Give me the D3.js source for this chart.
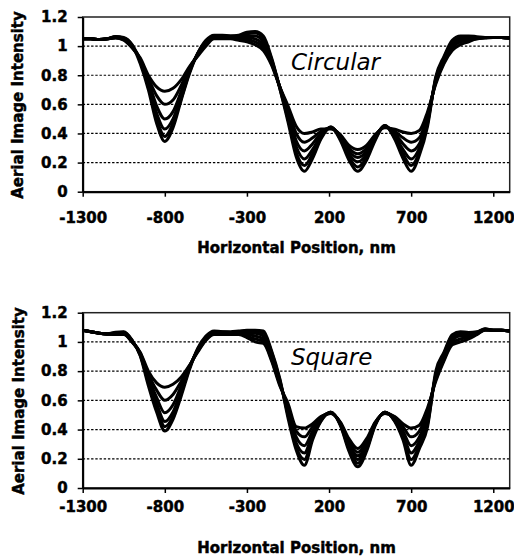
<!DOCTYPE html>
<html>
<head>
<meta charset="utf-8">
<script src="https://cdn.jsdelivr.net/npm/d3@7"></script>
<style>
  body { margin: 0; background: #fff; }
  svg { display: block; }
</style>
</head>
<body>
<script>
// ---- DATA ----
const positions = [-1300,-1250,-1200,-1150,-1100,-1050,-1000,-950,-900,-850,-800,-750,-700,-650,-600,-550,-500,-450,-400,-350,-300,-250,-200,-150,-100,-50,0,50,100,150,210,270,320,375,430,480,540,600,650,700,750,800,850,900,950,1000,1050,1100,1150,1200,1250,1300];

const xTicks = [-1300, -800, -300, 200, 700, 1200];
const yTicks = [0, 0.2, 0.4, 0.6, 0.8, 1, 1.2];
const yTickLabels = ["0", "0.2", "0.4", "0.6", "0.8", "1", "1.2"];
const gridValues = [0.2, 0.4, 0.6, 0.8, 1.0];

// Circular contact holes
const circular1 = [1.05,1.05,1.045,1.05,1.055,1.04,0.99,0.92,0.80,0.72,0.69,0.71,0.77,0.86,0.93,1.00,1.05,1.05,1.05,1.04,1.03,1.01,0.97,0.87,0.72,0.59,0.45,0.40,0.41,0.43,0.43,0.39,0.32,0.29,0.32,0.39,0.44,0.43,0.41,0.40,0.42,0.55,0.74,0.88,0.97,1.01,1.03,1.05,1.055,1.06,1.06,1.055];
const circular2 = [1.05,1.05,1.045,1.05,1.058,1.045,0.99,0.91,0.78,0.66,0.60,0.63,0.73,0.85,0.94,1.01,1.055,1.055,1.055,1.05,1.045,1.03,0.99,0.88,0.72,0.57,0.40,0.34,0.37,0.415,0.435,0.385,0.30,0.26,0.30,0.385,0.445,0.415,0.37,0.34,0.37,0.53,0.75,0.89,0.99,1.03,1.04,1.05,1.058,1.06,1.06,1.055];
const circular3 = [1.05,1.05,1.045,1.05,1.06,1.05,1.00,0.91,0.76,0.59,0.50,0.55,0.69,0.84,0.94,1.02,1.06,1.06,1.06,1.055,1.06,1.05,1.01,0.89,0.72,0.55,0.35,0.28,0.33,0.40,0.44,0.38,0.28,0.235,0.28,0.38,0.45,0.40,0.33,0.28,0.33,0.51,0.76,0.90,1.00,1.04,1.05,1.055,1.06,1.06,1.06,1.055];
const circular4 = [1.05,1.05,1.045,1.05,1.062,1.052,1.00,0.90,0.74,0.54,0.43,0.50,0.66,0.83,0.95,1.03,1.065,1.065,1.065,1.06,1.07,1.07,1.03,0.90,0.72,0.52,0.31,0.225,0.29,0.385,0.44,0.37,0.26,0.205,0.26,0.37,0.45,0.385,0.29,0.225,0.30,0.49,0.77,0.91,1.02,1.05,1.06,1.06,1.06,1.06,1.06,1.055];
const circular5 = [1.05,1.05,1.045,1.05,1.064,1.055,1.01,0.90,0.72,0.50,0.38,0.47,0.64,0.82,0.95,1.03,1.07,1.07,1.07,1.07,1.085,1.09,1.05,0.91,0.71,0.50,0.27,0.18,0.26,0.37,0.445,0.36,0.24,0.17,0.24,0.36,0.455,0.37,0.26,0.18,0.27,0.47,0.78,0.92,1.03,1.06,1.065,1.06,1.06,1.06,1.06,1.055];
const circular6 = [1.05,1.05,1.045,1.05,1.066,1.06,1.01,0.88,0.70,0.47,0.345,0.44,0.63,0.81,0.95,1.04,1.075,1.075,1.07,1.075,1.095,1.10,1.07,0.92,0.71,0.48,0.24,0.14,0.23,0.36,0.445,0.35,0.22,0.14,0.22,0.35,0.455,0.36,0.23,0.14,0.25,0.45,0.79,0.93,1.04,1.07,1.07,1.065,1.06,1.06,1.06,1.055];

// Square contact holes
const square1 = [1.08,1.07,1.06,1.055,1.05,1.05,1.00,0.93,0.80,0.72,0.69,0.71,0.76,0.84,0.93,1.01,1.05,1.05,1.05,1.05,1.03,1.00,0.99,0.87,0.70,0.58,0.42,0.41,0.44,0.49,0.51,0.45,0.34,0.27,0.34,0.45,0.51,0.49,0.44,0.41,0.43,0.55,0.73,0.87,0.98,1.00,1.02,1.05,1.08,1.08,1.08,1.075];
const square2 = [1.08,1.07,1.06,1.055,1.053,1.054,1.00,0.925,0.78,0.67,0.60,0.64,0.73,0.835,0.935,1.015,1.055,1.055,1.055,1.055,1.04,1.02,1.005,0.88,0.71,0.56,0.39,0.35,0.42,0.485,0.512,0.445,0.32,0.245,0.32,0.445,0.512,0.485,0.42,0.35,0.39,0.53,0.745,0.88,0.995,1.02,1.03,1.054,1.082,1.08,1.08,1.075];
const square3 = [1.08,1.07,1.06,1.055,1.056,1.058,1.005,0.92,0.76,0.62,0.515,0.57,0.70,0.83,0.94,1.02,1.06,1.06,1.06,1.06,1.05,1.04,1.02,0.89,0.72,0.54,0.35,0.29,0.39,0.475,0.514,0.44,0.30,0.22,0.30,0.44,0.514,0.475,0.39,0.29,0.35,0.50,0.76,0.89,1.01,1.04,1.04,1.058,1.084,1.08,1.08,1.075];
const square4 = [1.08,1.07,1.06,1.055,1.06,1.062,1.01,0.915,0.74,0.58,0.455,0.52,0.67,0.825,0.945,1.025,1.065,1.065,1.06,1.065,1.06,1.06,1.04,0.91,0.73,0.52,0.31,0.24,0.37,0.465,0.516,0.435,0.285,0.195,0.285,0.435,0.516,0.465,0.37,0.24,0.32,0.47,0.77,0.90,1.02,1.05,1.05,1.062,1.086,1.08,1.08,1.075];
const square5 = [1.08,1.07,1.06,1.055,1.063,1.066,1.01,0.91,0.72,0.55,0.42,0.49,0.65,0.82,0.95,1.03,1.07,1.07,1.065,1.07,1.07,1.07,1.06,0.93,0.74,0.50,0.28,0.195,0.35,0.46,0.518,0.43,0.27,0.17,0.27,0.43,0.518,0.46,0.35,0.195,0.29,0.44,0.78,0.92,1.04,1.06,1.06,1.066,1.088,1.08,1.08,1.075];
const square6 = [1.08,1.07,1.06,1.055,1.066,1.07,1.015,0.905,0.70,0.52,0.39,0.47,0.63,0.81,0.955,1.04,1.075,1.07,1.07,1.075,1.08,1.08,1.075,0.94,0.75,0.48,0.26,0.155,0.33,0.455,0.52,0.425,0.255,0.145,0.255,0.425,0.52,0.455,0.33,0.155,0.27,0.42,0.80,0.93,1.05,1.07,1.065,1.07,1.09,1.08,1.08,1.075];

const xTitle = "Horizontal Position, nm";
const yTitle = "Aerial Image Intensity";

// ---- DRAW ----
const W = 514, H = 560;
const svg = d3.select("body").append("svg").attr("width", W).attr("height", H);
const x = d3.scaleLinear().domain([-1300, 1300]).range([82.7, 509.7]);
const tickFont = "'DejaVu Sans', sans-serif";

function heavy(sel) {
  sel.attr("stroke", "#000").attr("stroke-width", 0.45).attr("paint-order", "stroke");
}

function panel(cfg) {
  const y = d3.scaleLinear().domain([0, 1.2]).range(cfg.yRange);
  const g = svg.append("g");

  // dotted gridlines
  g.selectAll("line.grid").data(gridValues).enter().append("line")
    .attr("x1", x(-1300)).attr("x2", x(1300))
    .attr("y1", d => y(d)).attr("y2", d => y(d))
    .attr("stroke", "#000").attr("stroke-width", 1.2)
    .attr("stroke-dasharray", "2.4,1.8");

  // frame (top and right)
  g.append("rect")
    .attr("x", x(-1300)).attr("y", y(1.2))
    .attr("width", x(1300) - x(-1300)).attr("height", y(0) - y(1.2))
    .attr("fill", "none").attr("stroke", "#222").attr("stroke-width", 1.5);

  // curves
  const line = d3.line()
    .x((d, i) => x(positions[i]))
    .y(d => y(d))
    .curve(d3.curveMonotoneX);
  g.selectAll("path.curve").data(cfg.series).enter().append("path")
    .attr("d", d => line(d))
    .attr("fill", "none").attr("stroke", "#000")
    .attr("stroke-width", 3).attr("stroke-linejoin", "round");

  // axes
  const yAxis = d3.axisLeft(y).tickValues(yTicks)
    .tickFormat((d, i) => yTickLabels[i]).tickSize(5).tickSizeOuter(0).tickPadding(10);
  const ya = g.append("g").attr("transform", `translate(${x(-1300)},0)`).call(yAxis);
  const xAxis = d3.axisBottom(x).tickValues(xTicks)
    .tickFormat(d3.format("d")).tickSize(5).tickSizeOuter(0).tickPadding(cfg.xPad);
  const xa = g.append("g").attr("transform", `translate(0,${y(0)})`).call(xAxis);
  [ya, xa].forEach(a => {
    a.select(".domain").attr("stroke", "#000").attr("stroke-width", 2);
    a.selectAll(".tick line").attr("stroke", "#000").attr("stroke-width", 1.5);
    a.selectAll("text").attr("font-family", tickFont).attr("font-weight", "bold")
      .attr("font-size", 15).attr("fill", "#000").call(heavy);
  });
  xa.selectAll(".tick text").text(d => d < 0 ? "-" + Math.abs(d) : String(d));

  // axis titles
  g.append("text").attr("x", 296.5).attr("y", cfg.xTitleY)
    .attr("text-anchor", "middle").attr("font-family", tickFont)
    .attr("font-weight", "bold").attr("font-size", 15).text(xTitle).call(heavy);
  g.append("text")
    .attr("transform", `translate(${cfg.yTitleX},${cfg.yTitleY}) rotate(-90)`)
    .attr("text-anchor", "middle").attr("font-family", tickFont)
    .attr("font-weight", "bold").attr("font-size", 15).text(yTitle).call(heavy);

  // panel label
  g.append("text").attr("x", 291).attr("y", cfg.labelY)
    .attr("font-family", tickFont).attr("font-style", "italic")
    .attr("font-size", 23).text(cfg.label);
}

panel({
  yRange: [191.7, 17], xPad: 16, xTitleY: 252.5, yTitleX: 23, yTitleY: 105,
  label: "Circular", labelY: 70,
  series: [circular1, circular2, circular3, circular4, circular5, circular6]
});
panel({
  yRange: [488, 312.7], xPad: 8, xTitleY: 553, yTitleX: 24, yTitleY: 401,
  label: "Square", labelY: 365,
  series: [square1, square2, square3, square4, square5, square6]
});
</script>
</body>
</html>
